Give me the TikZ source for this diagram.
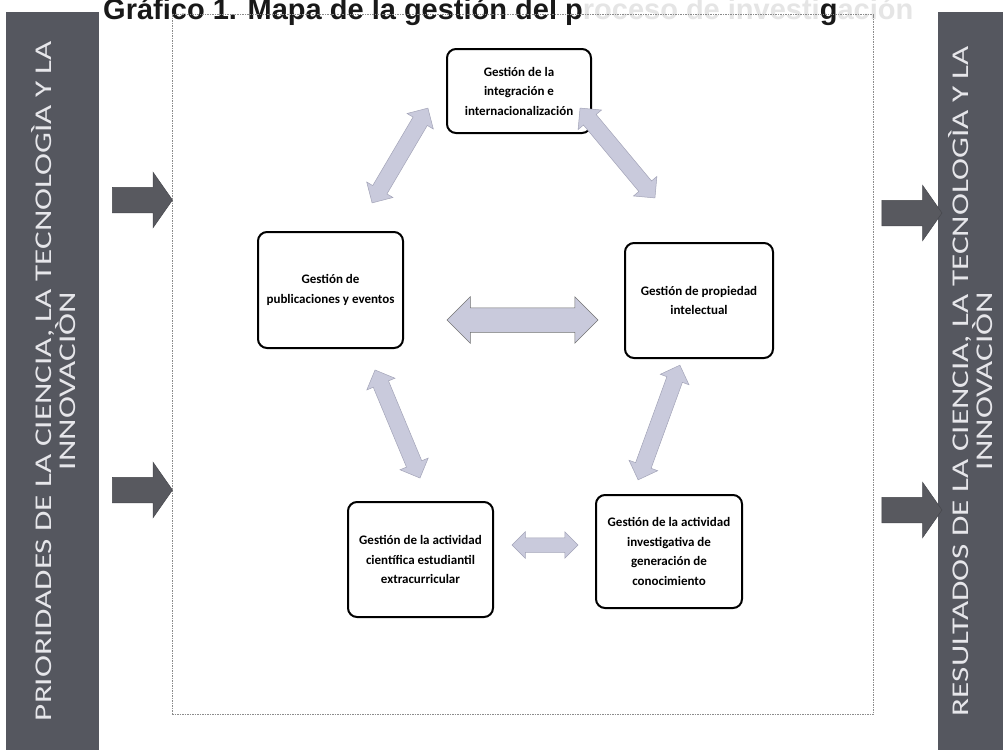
\documentclass[tikz,border=0pt]{standalone}
\usepackage{fontspec}
\setmainfont{Carlito}
\newfontfamily\barfont{Carlito}[FakeStretch=1.38]
\newfontfamily\titlefont{Liberation Sans}
\usetikzlibrary{shapes.arrows}
\definecolor{barcol}{HTML}{55575F}
\definecolor{bartext}{HTML}{E6E6EA}
\definecolor{lightarrow}{HTML}{C9CADC}
\definecolor{lightedge}{HTML}{A3A4B8}
\definecolor{darkarrow}{HTML}{58595F}
\tikzset{
  procbox/.style={draw=black, line width=2pt, rounded corners=9pt, fill=white, align=center,
    font=\bfseries\fontsize{13}{19.5}\selectfont, inner sep=2pt},
  sidebar/.style={fill=barcol, rotate=90, align=center, text=bartext, inner sep=0pt,
    font=\barfont\fontsize{24}{21}\selectfont},
  dblarrow/.style={double arrow, fill=lightarrow, draw=lightedge, line width=0.5pt, inner xsep=0pt,
    double arrow tip angle=90},
  inarrow/.style={single arrow, fill=darkarrow, draw=darkarrow!80!black, line width=0.5pt, inner xsep=0pt,
    inner ysep=12.5pt, single arrow tip angle=110, minimum height=60pt, single arrow head extend=15pt},
}
\begin{document}
\begin{tikzpicture}[x=1pt,y=-1pt]
\useasboundingbox (0,0) rectangle (1005,755);
\fill[white] (0,0) rectangle (1005,755);
% title (cut at the top of the page, as in the scan)
\begin{scope}
\clip (0,0) rectangle (1005,40);
\node[anchor=base west, inner sep=0pt, font=\titlefont\bfseries\fontsize{29}{29}\selectfont, text=black!90] (title) at (103,19)
  {Gráfico 1. Mapa de la gestión del p\textcolor{black!10}{roceso de investi}g\textcolor{black!10}{ación}};
\end{scope}
% dashed frame
\node[draw=black!45, dash pattern=on 1.5pt off 1pt, line width=0.8pt, minimum width=701pt, minimum height=700pt, inner sep=0pt] (frame) at (522.5,364.5) {};
% side bars
\node[sidebar, minimum width=738pt, minimum height=89pt] (left) at (54,381)
  {PRIORIDADES DE LA CIENCIA, LA TECNOLOGÌA Y LA\\INNOVACIÒN};
\node[sidebar, minimum width=738pt, minimum height=65pt] (right) at (970.5,381)
  {RESULTADOS DE LA CIENCIA, LA TECNOLOGÌA Y LA\\INNOVACIÒN};
\fill[barcol] (6,12) rectangle (10,750);
% input / output arrows
\node[inarrow] (in1) at (138,200) {};
\node[inarrow] (in2) at (138,490) {};
\node[inarrow] (out1) at (907.5,213) {};
\node[inarrow] (out2) at (907.5,510) {};
% process boxes
\node[procbox, minimum width=144pt, minimum height=84pt] (top) at (519,91)
  {Gestión de la\\integración e\\internacionalización};
\node[procbox, minimum width=145pt, minimum height=116pt] (pub) at (330.5,290)
  {Gestión de\\publicaciones y eventos};
\node[procbox, minimum width=148pt, minimum height=115pt] (prop) at (699,300.5)
  {Gestión de propiedad\\intelectual};
\node[procbox, minimum width=145pt, minimum height=115pt] (est) at (420.5,559.5)
  {Gestión de la actividad\\científica estudiantil\\extracurricular};
\node[procbox, minimum width=146pt, minimum height=113pt] (inv) at (669,551.5)
  {Gestión de la actividad\\investigativa de\\generación de\\conocimiento};
% double arrows between boxes
\node[dblarrow, rotate=59.5, minimum height=110pt, inner ysep=8pt, double arrow head extend=7pt] (a1) at (400,155.5) {};
\node[dblarrow, rotate=-50.2, minimum height=117pt, inner ysep=8pt, double arrow head extend=7pt] (a2) at (617.5,153) {};
\node[dblarrow, minimum height=151pt, inner ysep=12pt, double arrow head extend=11pt, draw=black!55] (a3) at (522.5,320) {};
\node[dblarrow, rotate=-67.4, minimum height=117pt, inner ysep=8pt, double arrow head extend=7pt] (a4) at (397.5,424) {};
\node[dblarrow, rotate=70, minimum height=122pt, inner ysep=8pt, double arrow head extend=7pt] (a5) at (659,422.5) {};
\node[dblarrow, minimum height=66pt, inner ysep=7pt, double arrow head extend=6pt] (a6) at (545,545) {};
\end{tikzpicture}
\end{document}
